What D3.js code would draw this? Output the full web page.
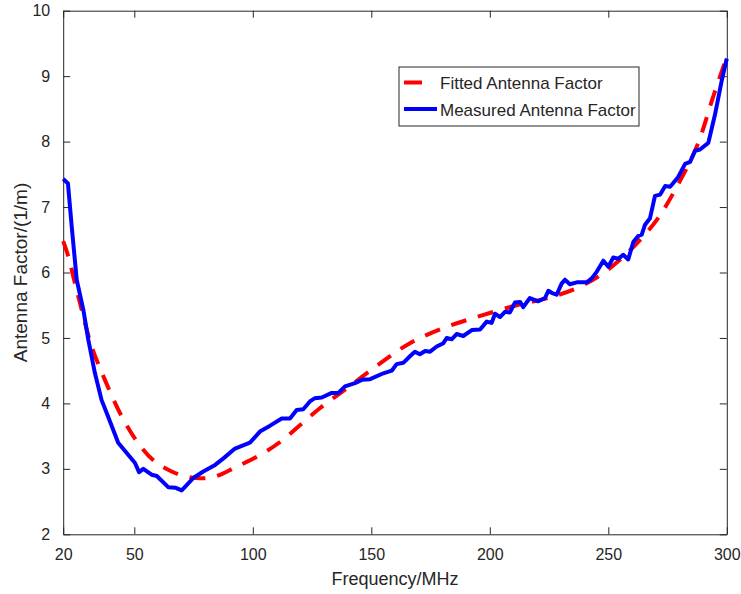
<!DOCTYPE html>
<html>
<head>
<meta charset="utf-8">
<script src="https://cdn.jsdelivr.net/npm/d3@7"></script>
<style>
  body { margin: 0; background: #fff; }
  text { font-family: "Liberation Sans", Arial, Helvetica, sans-serif; fill: #262626; }
</style>
</head>
<body>
<div id="chart"></div>
<script>
// measured antenna factor
var measFreq = [20, 22, 23.6, 25.7, 28.5, 30.6, 33.4, 36.2, 38.4, 43.2, 47.5, 50.3, 52, 53.8, 57.3, 59.5,
  64.3, 67.5, 70, 72.1, 74.9, 79.1, 84.1, 87.6, 92.5, 98.8, 103, 107.3, 112.2, 115.7, 118.5, 121.3,
  124.1, 126.2, 129.1, 133.3, 136.1, 138.9, 143.1, 146, 149.5, 155.1, 158.6, 160.7, 163.5, 166.3,
  168.4, 170.5, 172.7, 174.8, 177.6, 180.4, 181.8, 183.9, 186, 188.8, 192.4, 195.9, 198.7, 200.8,
  202.2, 204.3, 206.4, 208.5, 210.6, 212.8, 214.1, 216.9, 220.5, 223.3, 224.7, 226.1, 228.2, 230.3,
  231.7, 233.8, 236.7, 240.9, 243, 245.1, 247.9, 250, 252.1, 254.2, 256.3, 258.4, 260.6, 262.7,
  264.1, 265.5, 267.6, 269.7, 271.9, 274, 276.1, 279.5, 282.4, 284.5, 286.6, 288.7, 292.2, 295,
  297.9, 300];
var measAF = [7.43, 7.36, 6.70, 5.89, 5.43, 4.97, 4.46, 4.05, 3.85, 3.40, 3.21, 3.09, 2.95, 3.00, 2.91, 2.89,
  2.72, 2.71, 2.67, 2.75, 2.86, 2.96, 3.06, 3.16, 3.31, 3.40, 3.57, 3.66, 3.77, 3.77, 3.90, 3.91,
  4.03, 4.08, 4.09, 4.16, 4.16, 4.26, 4.31, 4.36, 4.37, 4.46, 4.50, 4.60, 4.62, 4.72,
  4.79, 4.75, 4.80, 4.79, 4.87, 4.92, 5.00, 4.98, 5.06, 5.03, 5.12, 5.13, 5.25, 5.23,
  5.37, 5.32, 5.40, 5.39, 5.54, 5.55, 5.47, 5.61, 5.56, 5.61, 5.72, 5.69, 5.66, 5.83,
  5.89, 5.82, 5.85, 5.85, 5.91, 6.01, 6.18, 6.09, 6.23, 6.21, 6.27, 6.20, 6.47, 6.56,
  6.58, 6.73, 6.83, 7.17, 7.19, 7.32, 7.31, 7.46, 7.66, 7.69, 7.86, 7.88, 7.98, 8.41,
  8.94, 9.27];

// fitted antenna factor
var fitFreq = [20, 22.2, 25, 27.8, 32, 37.6, 44.7, 51.7, 58.7, 65.8, 70, 76, 83, 93, 103, 111.5, 120,
  128.4, 139.6, 153.7, 166.3, 180.4, 194.5, 211.4, 225.4, 236.7, 247.9, 259.2, 270.4, 278.9,
  287.3, 294.3, 300];
var fitAF = [6.48, 6.24, 5.83, 5.43, 4.87, 4.36, 3.80, 3.39, 3.11, 2.96, 2.90, 2.86, 2.87, 3.03, 3.21, 3.41, 3.67,
  3.93, 4.23, 4.61, 4.92, 5.15, 5.32, 5.50, 5.62, 5.76, 5.99, 6.34, 6.80, 7.31,
  7.92, 8.69, 9.30];

var xTicks = [20, 50, 100, 150, 200, 250, 300];
var yTicks = [2, 3, 4, 5, 6, 7, 8, 9, 10];
var seriesNames = ["Fitted Antenna Factor", "Measured Antenna Factor"];

var svgWidth = 741, svgHeight = 594;
var margin = { top: 10.7, right: 14.2, bottom: 59.7, left: 63.2 };
var chartWidth = svgWidth - margin.left - margin.right;
var chartHeight = svgHeight - margin.top - margin.bottom;

var svg = d3.select("#chart").append("svg")
  .attr("width", svgWidth)
  .attr("height", svgHeight);

var chartGroup = svg.append("g")
  .attr("transform", `translate(${margin.left}, ${margin.top})`);

var xScale = d3.scaleLinear().domain([20, 300]).range([0, chartWidth]);
var yScale = d3.scaleLinear().domain([2, 10]).range([chartHeight, 0]);

var axisColor = "#262626";

// axes with inward ticks, box on all four sides
var botAxis = d3.axisBottom(xScale).tickValues(xTicks).tickSizeInner(-7).tickSizeOuter(0).tickPadding(14);
var topAxis = d3.axisTop(xScale).tickValues(xTicks).tickSizeInner(-7).tickSizeOuter(0).tickFormat("");
var leftAxis = d3.axisLeft(yScale).tickValues(yTicks).tickSizeInner(-7).tickSizeOuter(0).tickPadding(13);
var rightAxis = d3.axisRight(yScale).tickValues(yTicks).tickSizeInner(-7).tickSizeOuter(0).tickFormat("");

function styleAxis(g) {
  g.select(".domain").attr("stroke", axisColor).attr("stroke-width", 1);
  g.selectAll(".tick line").attr("stroke", axisColor).attr("stroke-width", 1);
  g.selectAll(".tick text").attr("fill", axisColor).style("font-size", "16px")
    .style("font-family", "'Liberation Sans', Arial, Helvetica, sans-serif");
}

chartGroup.append("g").attr("transform", `translate(0, ${chartHeight})`).call(botAxis).call(styleAxis);
chartGroup.append("g").call(topAxis).call(styleAxis);
chartGroup.append("g").call(leftAxis).call(styleAxis);
chartGroup.append("g").attr("transform", `translate(${chartWidth}, 0)`).call(rightAxis).call(styleAxis);

var fitData = fitFreq.map((f, i) => ({ f: f, v: fitAF[i] }));
var measData = measFreq.map((f, i) => ({ f: f, v: measAF[i] }));

var smoothLine = d3.line().x(d => xScale(d.f)).y(d => yScale(d.v)).curve(d3.curveCatmullRom);
var rawLine = d3.line().x(d => xScale(d.f)).y(d => yScale(d.v));

chartGroup.append("path")
  .datum(fitData)
  .attr("d", smoothLine)
  .attr("fill", "none")
  .attr("stroke", "#ff0000")
  .attr("stroke-width", 4)
  .attr("stroke-dasharray", "16,12");

chartGroup.append("path")
  .datum(measData)
  .attr("d", rawLine)
  .attr("fill", "none")
  .attr("stroke", "#0000ff")
  .attr("stroke-width", 4)
  .attr("stroke-linejoin", "round");

// legend
var legend = svg.append("g").attr("transform", "translate(399, 67)");
legend.append("rect")
  .attr("width", 240).attr("height", 59)
  .attr("fill", "#fff").attr("stroke", axisColor).attr("stroke-width", 1);
legend.append("line")
  .attr("x1", 5).attr("x2", 23).attr("y1", 15.5).attr("y2", 15.5)
  .attr("stroke", "#ff0000").attr("stroke-width", 4);
legend.append("line")
  .attr("x1", 5).attr("x2", 38).attr("y1", 42).attr("y2", 42)
  .attr("stroke", "#0000ff").attr("stroke-width", 4);
legend.selectAll("text.leg")
  .data(seriesNames)
  .enter()
  .append("text")
  .attr("class", "leg")
  .attr("x", 41)
  .attr("y", (d, i) => 22 + i * 27)
  .style("font-size", "17px")
  .text(d => d);

// axis labels
svg.append("text")
  .attr("x", margin.left + chartWidth / 2)
  .attr("y", 585)
  .attr("text-anchor", "middle")
  .style("font-size", "18px")
  .text("Frequency/MHz");

svg.append("text")
  .attr("transform", `translate(27, ${margin.top + chartHeight / 2}) rotate(-90)`)
  .attr("text-anchor", "middle")
  .style("font-size", "19px")
  .text("Antenna Factor/(1/m)");
</script>
</body>
</html>
